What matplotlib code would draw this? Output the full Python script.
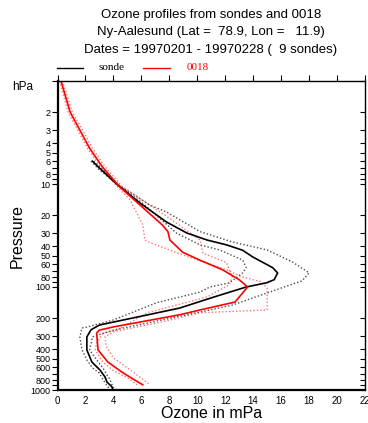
import numpy as np
import matplotlib
matplotlib.use("Agg")
import matplotlib.pyplot as plt
from matplotlib.lines import Line2D
from matplotlib.ticker import FixedLocator, FixedFormatter, NullFormatter, NullLocator

# ---- data (pressure in hPa, ozone partial pressure in mPa) ----
sonde_p = [6.0, 7.0, 10.2, 15.3, 23.4, 29.9, 35, 39, 44, 51, 65, 73, 85, 91, 100,
           125, 160, 187, 219, 234, 260, 305, 408, 535, 640, 748, 836, 935, 1000]
sonde_v = [2.5, 3.0, 4.3, 5.9, 7.8, 9.25, 10.7, 12.1, 13.25, 13.96, 15.4, 15.75, 15.5, 14.96, 13.5,
           11.2, 8.75, 6.4, 4.0, 3.0, 2.4, 2.1, 2.1, 2.46, 3.04, 3.4, 3.54, 3.9, 3.96]

sonde_hi_p = [6.0, 7.0, 10.5, 16, 18.7, 29, 36.5, 43.7, 57, 73, 87, 150, 167, 262, 305,
              408, 510, 610, 700, 790, 930, 1000]
sonde_hi_v = [2.6, 3.1, 4.5, 6.6, 7.8, 10.2, 12.5, 15.0, 16.8, 18.0, 17.5, 12.5, 10.9, 4.0, 2.5,
              2.3, 2.8, 3.25, 3.5, 3.75, 3.96, 4.1]

sonde_lo_p = [6.0, 7.3, 10.7, 15, 26, 29.9, 39, 43.7, 54.8, 65, 73, 91, 100, 112, 142,
              209, 245, 250, 305, 408, 510, 610, 685, 790, 930, 1000]
sonde_lo_v = [2.4, 3.0, 4.5, 6.0, 8.0, 8.5, 10.2, 11.6, 13.25, 13.5, 13.25, 12.3, 10.9, 10.2, 7.1,
              4.0, 2.1, 1.75, 1.6, 1.75, 2.1, 2.5, 3.0, 3.25, 3.6, 3.8]

model_p = [1.0, 2.0, 3.0, 4.5, 6.8, 10.5, 16, 25, 29, 35, 46, 55, 68, 85, 100,
           140, 167, 186, 244, 262, 280, 408, 535, 669, 782, 890]
model_v = [0.25, 0.9, 1.6, 2.3, 3.2, 4.4, 5.9, 7.5, 7.9, 8.04, 8.96, 10.2, 11.8, 13.0, 13.6,
           12.7, 10.2, 8.75, 4.0, 3.0, 2.8, 2.9, 3.6, 4.6, 5.4, 6.1]

model_a_p = [1.0, 2.0, 3.0, 4.5, 6.8, 10.5, 14.3, 25, 35, 37, 49, 68, 80, 89, 102,
             167, 178, 218, 272, 305, 380, 490, 610, 750, 890]
model_a_v = [0.15, 0.75, 1.45, 2.15, 3.05, 4.25, 5.2, 6.1, 6.25, 6.6, 9.0, 12.1, 13.2, 14.6, 15.0,
             15.0, 10.2, 7.5, 4.0, 3.4, 3.5, 4.0, 5.0, 5.9, 6.6]

model_b_p = [1.0, 2.0, 3.0, 4.5, 6.8, 10.5, 16, 23.4, 35, 47, 58, 80, 95, 125, 178,
             262, 280, 350, 408, 535, 650, 760, 890]
model_b_v = [0.35, 1.05, 1.8, 2.5, 3.4, 4.6, 6.6, 8.4, 10.2, 10.4, 12.1, 12.5, 12.3, 10.7, 6.4,
             4.25, 3.25, 2.8, 2.7, 3.25, 4.0, 5.0, 5.7]

title_lines = ["Ozone profiles from sondes and 0018",
               "Ny-Aalesund (Lat =  78.9, Lon =   11.9)",
               "Dates = 19970201 - 19970228 (  9 sondes)"]
legend_labels = ["sonde", "0018"]
xticks = list(range(0, 23, 2))
ylabels = [2, 3, 4, 5, 6, 8, 10, 20, 30, 40, 50, 60, 80, 100, 200, 300, 400, 500, 600, 800, 1000]

# ---- figure ----
W, H = 368, 423
fig = plt.figure(figsize=(W / 100, H / 100), dpi=100)
sans = "Liberation Sans"
serif = "Liberation Serif"

ax = fig.add_axes([57.5 / W, 1 - 390 / H, (365 - 57.5) / W, (390 - 81) / H])
ax.set_yscale("log")
ax.set_xlim(0, 22)
ax.set_ylim(1000, 1)

dot = (0, (1, 1.5))
ax.plot(sonde_hi_v, sonde_hi_p, color="black", lw=1.0, ls=dot, alpha=0.7)
ax.plot(sonde_lo_v, sonde_lo_p, color="black", lw=1.0, ls=dot, alpha=0.7)
ax.plot(model_a_v, model_a_p, color="red", lw=1.0, ls=dot, alpha=0.55)
ax.plot(model_b_v, model_b_p, color="red", lw=1.0, ls=dot, alpha=0.55)
ax.plot(sonde_v, sonde_p, color="black", lw=1.2)
ax.plot(model_v, model_p, color="red", lw=1.2)

# y ticks
all_ticks = [m * 10 ** e for e in range(0, 3) for m in range(1, 10)] + [1000]
ax.yaxis.set_major_locator(FixedLocator(all_ticks))
ax.yaxis.set_major_formatter(FixedFormatter(
    [str(int(t)) if int(t) in ylabels else "" for t in all_ticks]))
ax.yaxis.set_minor_locator(NullLocator())
ax.tick_params(axis="y", which="major", direction="out", length=4, width=0.8,
               labelsize=6.5, pad=1)
ax.set_xticks(xticks)
ax.set_xticklabels([str(t) for t in xticks])
ax.tick_params(axis="x", which="major", direction="out", length=4, width=0.8,
               labelsize=7, pad=0, top=True, bottom=False)
for lab in ax.get_xticklabels() + ax.get_yticklabels():
    lab.set_fontfamily(sans)

# right-hand inward ticks
ax2 = ax.twinx()
ax2.set_yscale("log")
ax2.set_ylim(1000, 1)
ax2.yaxis.set_major_locator(FixedLocator(all_ticks))
ax2.yaxis.set_minor_locator(NullLocator())
ax2.yaxis.set_major_formatter(NullFormatter())
ax2.tick_params(axis="y", which="major", direction="in", length=3.5, width=0.8)
for s in ax2.spines.values():
    s.set_visible(False)

for s in ["left", "bottom"]:
    ax.spines[s].set_linewidth(1.6)
for s in ["top", "right"]:
    ax.spines[s].set_linewidth(1.0)

ax.set_xlabel("Ozone in mPa", fontsize=11.5, family=sans, labelpad=0)
ax.set_ylabel("Pressure", fontsize=11.5, family=sans)
ax.yaxis.set_label_coords((25 - 57.5) / (365 - 57.5), 0.5)

fig.text(23 / W, 1 - 87 / H, "hPa", fontsize=8.5, family=sans, ha="center", va="center")

# title
for i, line in enumerate(title_lines):
    fig.text(211 / W, 1 - (15 + 17.5 * i) / H, line, fontsize=9.5, family=sans,
             ha="center", va="center")

# legend
ly = 1 - 68 / H
fig.add_artist(Line2D([57 / W, 83 / W], [ly, ly], color="black", lw=1.0))
fig.text(99 / W, ly, legend_labels[0], fontsize=8, family=serif, ha="left", va="center")
fig.add_artist(Line2D([143 / W, 170 / W], [ly, ly], color="red", lw=1.0))
fig.text(187 / W, ly, legend_labels[1], fontsize=8, family=serif, ha="left", va="center",
         color="red")

fig.savefig("out.png", dpi=100)
